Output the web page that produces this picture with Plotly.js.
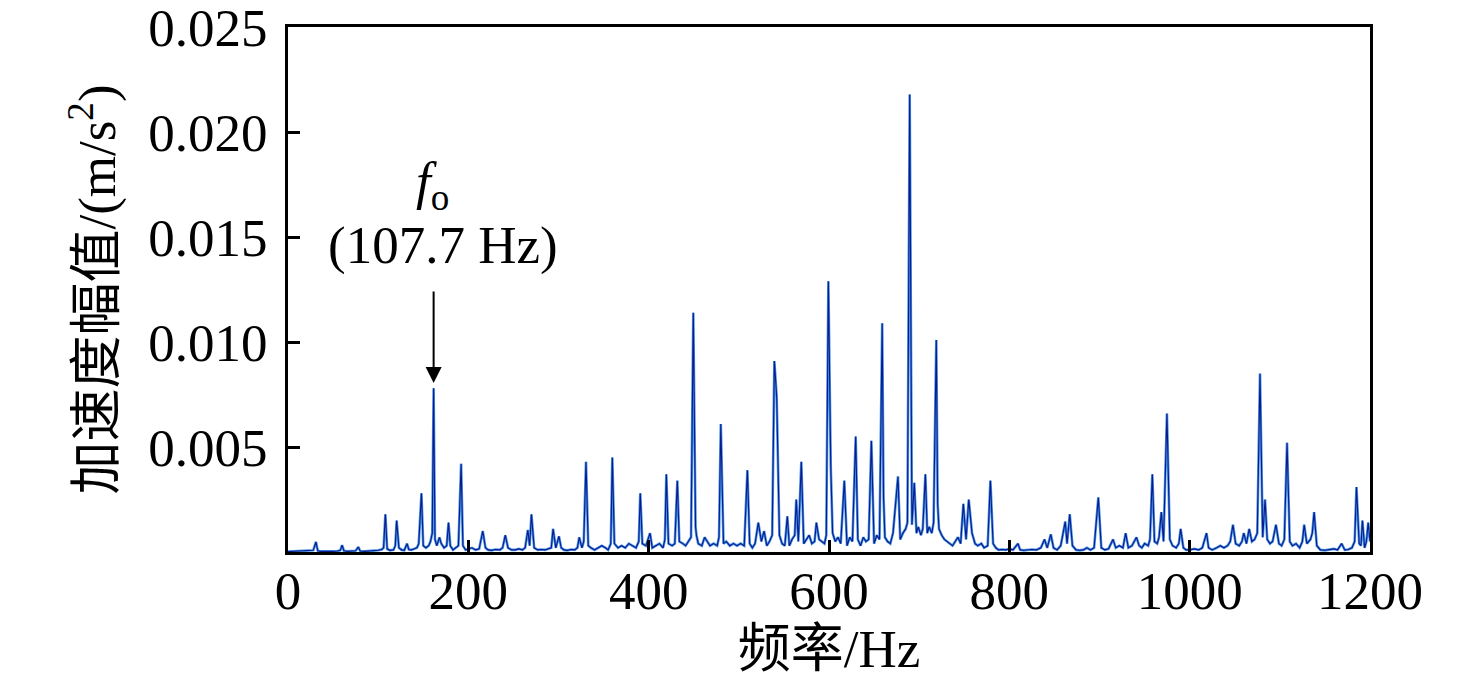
<!DOCTYPE html>
<html>
<head>
<meta charset="utf-8">
<script src="https://cdn.plot.ly/plotly-3.0.1.min.js"></script>
<style>html,body{margin:0;padding:0;background:#fff;}#chart{width:1476px;height:697px;}</style>
</head>
<body>
<div id="chart"></div>
<script>
// Spectral line peaks (Hz, m/s^2)
const peakFreq = [31,60,78,108,120.5,132,148,161.5,168,178,192,216,241,266,270,294,300.5,323,330.5,359.7,390.7,401.5,419.6,431.8,449.5,452,462,480,509.5,521.6,528,539.4,542,553.8,563.7,569.3,586,599.3,602,617,629.6,647,659,660.5,676.5,689.5,691.2,694.6,706.9,719,720.5,743,749,755,758.6,779,809.6,839,846,862,867,898.7,915,929,941,958.6,968.6,974.8,990,1018.7,1048,1060,1066,1078,1083.6,1095.7,1108,1127,1138,1168.5,1185,1191.6,1198];
const peakAmp = [0.00048,0.00033,0.00024,0.0018,0.0015,0.0004,0.0028,0.0078,0.0007,0.0014,0.0042,0.001,0.0008,0.00105,0.0018,0.0011,0.00075,0.0007,0.0043,0.0045,0.0028,0.0009,0.0037,0.0034,0.0114,0.0012,0.0007,0.0061,0.0039,0.0014,0.001,0.0091,0.0074,0.0017,0.0025,0.0043,0.0014,0.0129,0.004,0.0034,0.0055,0.0053,0.0109,0.0026,0.0036,0.0218,0.0033,0.0033,0.0037,0.0101,0.0023,0.0007,0.0023,0.0025,0.0009,0.0034,0.0004,0.0006,0.00084,0.00145,0.0018,0.0026,0.0006,0.0009,0.0007,0.0037,0.0019,0.0066,0.0011,0.0009,0.0013,0.0009,0.0011,0.0085,0.0025,0.0013,0.0052,0.0013,0.0019,0.0004,0.0031,0.0015,0.0014];

// Background noise floor between the lines (Hz, m/s^2)
const floorFreq = [0,5,10,15,20,25,28,33,36,40,45,50,55,58,62,66,70,75,80,85,90,95,100,104,106,110,113,117,119,123,126,129,134,137,140,143,145,150,153,156,158,160,163,165,170,173,176,180,183,186,189,194,197,200,204,208,212,219,222,226,230,235,238,244,248,252,256,260,263,268,273,277,281,285,289,292,297,303,306,310,314,318,321,326,328,333,336,340,344,348,352,355,358,362,366,370,374,378,382,386,389,393,397,404,408,412,416,418,422,426,429,434,438,441,444,447,453,455,459,465,468,472,476,478,483,486,490,494,498,502,506,512,515,518,525,531,534,537,545,548,551,556,559,562,566,572,575,578,581,584,589,592,595,597,604,607,610,613,620,623,626,632,635,638,641,644,650,653,656,662,665,668,671,679,682,685,687,692,697,699,702,704,709,711,714,716,722,725,728,731,734,737,740,746,752,762,765,769,772,776,782,785,788,792,796,800,804,812,816,820,825,830,835,842,849,853,857,864,870,874,878,882,886,890,894,902,906,910,918,922,926,932,936,944,947,950,954,956,961,964,966,971,978,981,985,988,993,996,1000,1005,1010,1014,1021,1025,1030,1034,1038,1042,1045,1051,1055,1058,1063,1069,1072,1075,1081,1086,1089,1092,1099,1102,1105,1111,1114,1118,1122,1125,1130,1134,1136,1141,1145,1150,1155,1160,1164,1172,1176,1180,1183,1188,1190,1194,1196,1200];
const floorAmp = [0.00002,0.00003,0.00002,0.00004,0.00003,0.00005,0.00008,0.00006,0.00003,0.00002,0.00004,0.00003,0.00005,0.00008,0.00006,0.00003,0.00004,0.00006,0.00005,0.00003,0.00004,0.00006,0.00008,0.00012,0.0002,0.00015,0.00008,0.0001,0.0003,0.0002,0.0001,0.00008,0.00012,0.0001,0.00015,0.0002,0.0004,0.0003,0.0002,0.0003,0.0005,0.0009,0.0006,0.0003,0.0004,0.0002,0.0003,0.0003,0.0001,0.0002,0.0003,0.0003,0.0001,0.00015,0.0002,0.0001,0.00015,0.0002,0.0001,0.00008,0.00012,0.0001,0.0002,0.0002,0.0001,0.0001,0.00015,0.0001,0.0002,0.0003,0.0002,0.0001,0.00012,0.0001,0.00015,0.0002,0.0002,0.0002,0.0001,0.00008,0.00012,0.0001,0.0002,0.0002,0.0005,0.0003,0.0002,0.0001,0.0002,0.0003,0.0002,0.0001,0.0004,0.0004,0.0002,0.0003,0.0002,0.0004,0.0003,0.0002,0.0005,0.0004,0.0003,0.0002,0.0003,0.0004,0.0002,0.0006,0.0004,0.0003,0.0004,0.0005,0.0004,0.0003,0.0005,0.0007,0.0008,0.0004,0.0003,0.0005,0.0003,0.0004,0.0003,0.0007,0.0004,0.0005,0.0003,0.0004,0.0003,0.0004,0.0003,0.0004,0.0002,0.0004,0.0005,0.0003,0.0005,0.0008,0.0008,0.0004,0.0003,0.0003,0.0006,0.0008,0.0005,0.0004,0.0006,0.0008,0.0004,0.0005,0.0006,0.0005,0.0004,0.0008,0.0009,0.0005,0.0007,0.0004,0.0003,0.0007,0.0005,0.0006,0.0003,0.0007,0.0005,0.0006,0.0004,0.0008,0.0006,0.0007,0.0005,0.0004,0.0009,0.0006,0.0009,0.0011,0.0014,0.0013,0.0009,0.0012,0.0008,0.0011,0.0009,0.0012,0.0009,0.0014,0.0011,0.0008,0.0006,0.0005,0.0004,0.0003,0.0005,0.0004,0.0006,0.0004,0.0003,0.0004,0.0002,0.0003,0.0004,0.0002,0.0001,0.00012,0.0001,0.00015,0.0001,0.0001,0.00008,0.0001,0.00012,0.0001,0.0002,0.0002,0.0002,0.0001,0.0003,0.0004,0.0003,0.0001,0.00008,0.0001,0.0002,0.0001,0.0002,0.0002,0.0001,0.00015,0.0002,0.0003,0.0002,0.0002,0.0003,0.0003,0.0002,0.0004,0.0003,0.0006,0.0005,0.0004,0.0007,0.0005,0.0006,0.0003,0.0002,0.0004,0.0002,0.0001,0.0001,0.00015,0.0001,0.0002,0.0002,0.0001,0.0002,0.0003,0.0002,0.0003,0.0005,0.0004,0.0003,0.0005,0.0004,0.0005,0.0006,0.0009,0.0007,0.0006,0.0004,0.0005,0.0004,0.0003,0.0006,0.0005,0.0003,0.0004,0.0002,0.0005,0.0004,0.0006,0.0009,0.0003,0.0001,0.00008,0.0001,0.00015,0.0001,0.0001,0.00012,0.0002,0.0005,0.0004,0.0003,0.0002,0.0005,0.0005];

const xTickVals = [0,200,400,600,800,1000,1200];
const yTickVals = [0.005,0.010,0.015,0.020,0.025];
const yTickText = ['0.005','0.010','0.015','0.020','0.025'];

// merge lines and floor into one spectrum, ordered by frequency
const pts = [];
peakFreq.forEach((f,i)=>pts.push([f,peakAmp[i]]));
floorFreq.forEach((f,i)=>pts.push([f,floorAmp[i]]));
pts.sort((a,b)=>a[0]-b[0]);
const specF = pts.map(p=>p[0]);
const specA = pts.map(p=>p[1]);

const FONT = 'Liberation Serif, Times New Roman, Noto Sans CJK SC, serif';
const FS = 53;

const traces = [
  {x:specF, y:specA, type:'scatter', mode:'lines', line:{color:'#4a96e4', width:2.6}, hoverinfo:'skip', showlegend:false},
  {x:specF, y:specA, type:'scatter', mode:'lines', line:{color:'#0a1a8e', width:1.1}, hoverinfo:'skip', showlegend:false}
];

const layout = {
  width:1476, height:697,
  paper_bgcolor:'#ffffff', plot_bgcolor:'#ffffff',
  margin:{l:288, r:106, t:27, b:145},
  font:{family:FONT, size:FS, color:'#000'},
  showlegend:false,
  xaxis:{
    range:[0,1200], tickvals:xTickVals, ticks:'inside', ticklen:12, tickwidth:3, tickcolor:'#000',
    showline:true, linewidth:3, linecolor:'#000', mirror:true, showgrid:false, zeroline:false,
    tickfont:{family:FONT, size:FS, color:'#000'}, ticklabelstandoff:-10,
    title:{text:'频率/Hz', font:{family:FONT, size:FS, color:'#000'}, standoff:10}
  },
  yaxis:{
    range:[0,0.02502], tickvals:yTickVals, ticktext:yTickText, ticks:'inside', ticklen:12, tickwidth:3, tickcolor:'#000',
    showline:true, linewidth:3, linecolor:'#000', mirror:true, showgrid:false, zeroline:false,
    tickfont:{family:FONT, size:FS, color:'#000'}, ticklabelstandoff:7, ticklabeloverflow:'allow',
    title:{text:'加速度幅值/(m/s<sup>2</sup>)', font:{family:FONT, size:FS, color:'#000'}, standoff:16}
  },
  annotations:[
    {x:161.5, y:0.00805, xref:'x', yref:'y', text:'', showarrow:true, ax:0, ay:-93,
     arrowhead:2, arrowsize:1.6, arrowwidth:2, arrowcolor:'#000'},
    {x:160, y:0.0175, xref:'x', yref:'y', text:'<i>f</i><sub>o</sub>', showarrow:false,
     font:{family:FONT, size:FS, color:'#000'}},
    {x:172, y:0.0146, xref:'x', yref:'y', text:'(107.7 Hz)', showarrow:false,
     font:{family:FONT, size:FS, color:'#000'}}
  ]
};

Plotly.newPlot('chart', traces, layout, {displayModeBar:false, staticPlot:true});
</script>
</body>
</html>
